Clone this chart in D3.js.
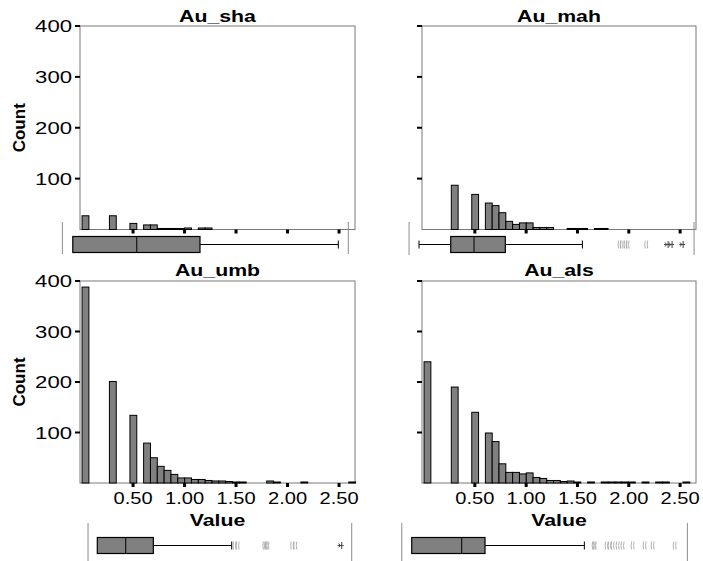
<!DOCTYPE html>
<html>
<head>
<meta charset="utf-8">
<script src="https://cdn.jsdelivr.net/npm/d3@7"></script>
<style>
  html, body { margin: 0; padding: 0; background: #fff; }
  svg { display: block; font-family: "Liberation Sans", Arial, sans-serif; }
</style>
</head>
<body>
<svg id="chart" width="703" height="561"></svg>
<script>
// Histogram bins shared by all four panels
const binStart = 0.005;
const binWidth = 0.0664;
const binCount = 40;

const seriesNames = ["Au_sha", "Au_mah", "Au_umb", "Au_als"];

// Counts per bin (index 0..39)
const countsSha = [27,0,0,0,27,0,0,12,0,9, 9,2,2,2,2,3,0,3,3,0, 0,0,0,0,0,0,0,0,0,0, 0,0,0,0,0,0,0,0,0,0];
const countsMah = [0,0,0,0,87,0,0,69,0,52, 47,33,16,10,13,13,4,4,4,0, 0,2,2,2,0,2,2,0,0,0, 0,0,0,0,0,0,0,0,0,0];
const countsUmb = [388,0,0,0,201,0,0,134,0,79, 50,33,25,17,10,10,7,7,5,4, 4,3,2,2,0,0,0,4,2,0, 0,0,2,0,0,0,0,0,0,2];
const countsAls = [240,0,0,0,190,0,0,140,0,99, 82,38,21,21,18,20,11,9,5,5, 3,4,2,0,2,0,2,2,2,2, 2,0,2,0,2,2,0,0,2,0];

// Box plot summaries: [lower whisker, Q1, median, Q3, upper whisker]
const boxSha = [-0.085, -0.085, 0.536, 1.150, 2.493];
const boxMah = [-0.044, 0.265, 0.492, 0.797, 1.548];
const boxUmb = [0.153, 0.153, 0.429, 0.697, 1.458];
const boxAls = [-0.115, -0.115, 0.372, 0.599, 1.567];

// Extent of each box plot strip
const boxRangeSha = [-0.186, 2.590];
const boxRangeMah = [-0.141, 2.636];
const boxRangeUmb = [0.063, 2.623];
const boxRangeAls = [-0.212, 2.571];

// Outliers and extreme values
const outliersSha = [];
const outliersMah = [1.915, 1.935, 1.974, 1.993, 2.175];
const outliersUmb = [1.49, 1.52, 1.78, 1.795, 1.81, 2.05, 2.08];
const outliersAls = [1.662, 1.672, 1.789, 1.818, 1.847, 1.896, 1.944, 2.042, 2.159, 2.237, 2.452];
const extremesSha = [];
const extremesMah = [2.383, 2.422, 2.530];
const extremesUmb = [2.526];
const extremesAls = [];

const xTicks = [0.5, 1.0, 1.5, 2.0, 2.5];
const yTicks = [100, 200, 300, 400];
const xLabel = "Value";
const yLabel = "Count";

const counts = [countsSha, countsMah, countsUmb, countsAls];
const boxes = [boxSha, boxMah, boxUmb, boxAls];
const boxRanges = [boxRangeSha, boxRangeMah, boxRangeUmb, boxRangeAls];
const outliers = [outliersSha, outliersMah, outliersUmb, outliersAls];
const extremes = [extremesSha, extremesMah, extremesUmb, extremesAls];

// Panel frames
const frames = [
  { x0: 80,  x1: 355, y0: 26,  y1: 229.5, titleY: 22,  boxY: 244.5, stripY: [222, 254], left: true,  bottom: false },
  { x0: 422, x1: 696, y0: 26,  y1: 229.5, titleY: 22,  boxY: 244.5, stripY: [222, 255], left: false, bottom: false },
  { x0: 80,  x1: 355, y0: 281, y1: 483,   titleY: 276, boxY: 545.5, stripY: [523, 561], left: true,  bottom: true },
  { x0: 422, x1: 696, y0: 281, y1: 483,   titleY: 276, boxY: 545.5, stripY: [523, 561], left: false, bottom: true }
];

const svg = d3.select("#chart");

// Widen text horizontally by a factor k
function stretch(sel, k) {
  sel.each(function () {
    const len = this.getComputedTextLength();
    d3.select(this).attr("textLength", len * k).attr("lengthAdjust", "spacingAndGlyphs");
  });
}

seriesNames.forEach((name, p) => {
  const f = frames[p];
  const g = svg.append("g");
  const x = d3.scaleLinear().domain([-0.015, 2.655]).range([f.x0, f.x1]);
  const y = d3.scaleLinear().domain([0, 400]).range([f.y1, f.y0]);

  // Plot frame
  g.append("rect")
    .attr("x", f.x0).attr("y", f.y0)
    .attr("width", f.x1 - f.x0).attr("height", f.y1 - f.y0)
    .attr("fill", "none").attr("stroke", "#7a7a7a").attr("stroke-width", 1);

  // Bars
  const bins = counts[p].map((c, i) => ({ x0: binStart + i * binWidth, x1: binStart + (i + 1) * binWidth, c }))
    .filter(b => b.c > 0);
  g.selectAll("rect.bar").data(bins).join("rect")
    .attr("class", "bar")
    .attr("x", b => x(b.x0))
    .attr("width", b => x(b.x1) - x(b.x0))
    .attr("y", b => y(b.c))
    .attr("height", b => y(0) - y(b.c))
    .attr("fill", "#808080").attr("stroke", "#000").attr("stroke-width", 1);

  // X tick marks
  g.selectAll("rect.xt").data(xTicks).join("rect")
    .attr("class", "xt")
    .attr("x", d => x(d) - 1.5).attr("y", f.y1)
    .attr("width", 3).attr("height", 4).attr("fill", "#000");

  // Y tick marks
  g.selectAll("rect.yt").data(yTicks).join("rect")
    .attr("class", "yt")
    .attr("x", f.x0 - 5).attr("y", d => y(d) - 1)
    .attr("width", 5).attr("height", 2).attr("fill", "#000");

  if (f.left) {
    g.selectAll("text.yl").data(yTicks).join("text")
      .attr("class", "yl")
      .attr("x", f.x0 - 8).attr("y", d => y(d)).attr("dy", "0.36em")
      .attr("text-anchor", "end").attr("font-size", 17).attr("fill", "#000")
      .text(d => d)
      .call(stretch, 1.3);
    g.append("text")
      .attr("transform", `translate(25,${(f.y0 + f.y1) / 2}) rotate(-90)`)
      .attr("text-anchor", "middle").attr("font-size", 17).attr("font-weight", "bold")
      .text(yLabel);
  }

  if (f.bottom) {
    g.selectAll("text.xl").data(xTicks).join("text")
      .attr("class", "xl")
      .attr("x", d => x(d)).attr("y", 504)
      .attr("text-anchor", "middle").attr("font-size", 17).attr("fill", "#000")
      .text(d => d3.format(".2f")(d))
      .call(stretch, 1.18);
    g.append("text")
      .attr("x", (f.x0 + f.x1) / 2).attr("y", 526)
      .attr("text-anchor", "middle").attr("font-size", 17).attr("font-weight", "bold")
      .text(xLabel)
      .call(stretch, 1.25);
  }

  // Title
  g.append("text")
    .attr("x", (f.x0 + f.x1) / 2).attr("y", f.titleY)
    .attr("text-anchor", "middle").attr("font-size", 17).attr("font-weight", "bold")
    .text(name)
    .call(stretch, 1.25);

  // Box plot strip
  const b = boxes[p];
  const bh = 16;
  const by = f.boxY;
  boxRanges[p].forEach(v => {
    g.append("line")
      .attr("x1", x(v)).attr("x2", x(v))
      .attr("y1", f.stripY[0]).attr("y2", f.stripY[1])
      .attr("stroke", "#8c8c8c").attr("stroke-width", 1);
  });
  // whiskers
  if (b[0] < b[1]) {
    g.append("line").attr("x1", x(b[0])).attr("x2", x(b[1])).attr("y1", by).attr("y2", by)
      .attr("stroke", "#000").attr("stroke-width", 1);
    g.append("line").attr("x1", x(b[0])).attr("x2", x(b[0])).attr("y1", by - 4).attr("y2", by + 4)
      .attr("stroke", "#000").attr("stroke-width", 1);
  }
  g.append("line").attr("x1", x(b[3])).attr("x2", x(b[4])).attr("y1", by).attr("y2", by)
    .attr("stroke", "#000").attr("stroke-width", 1);
  g.append("line").attr("x1", x(b[4])).attr("x2", x(b[4])).attr("y1", by - 4).attr("y2", by + 4)
    .attr("stroke", "#000").attr("stroke-width", 1);
  g.append("rect")
    .attr("x", x(b[1])).attr("y", by - bh / 2)
    .attr("width", x(b[3]) - x(b[1])).attr("height", bh)
    .attr("fill", "#808080").attr("stroke", "#000").attr("stroke-width", 1.2);
  g.append("line").attr("x1", x(b[2])).attr("x2", x(b[2]))
    .attr("y1", by - bh / 2).attr("y2", by + bh / 2)
    .attr("stroke", "#000").attr("stroke-width", 1);

  // Outlier marks
  g.selectAll("path.out").data(outliers[p]).join("path")
    .attr("class", "out")
    .attr("d", v => {
      const cx = x(v);
      return `M${cx - 1.5},${by - 4} l-0.5,4 l0.5,4 M${cx + 1},${by - 4} l-0.5,4 l0.5,4`;
    })
    .attr("fill", "none").attr("stroke", "#a8a8a8").attr("stroke-width", 0.9);

  g.selectAll("path.ext").data(extremes[p]).join("path")
    .attr("class", "ext")
    .attr("d", v => {
      const cx = x(v);
      return `M${cx},${by - 3.5} v7 M${cx - 4},${by} h6 M${cx - 3},${by - 2} l1.5,2 l-1.5,2`;
    })
    .attr("fill", "none").attr("stroke", "#444").attr("stroke-width", 1);
});
</script>
</body>
</html>
